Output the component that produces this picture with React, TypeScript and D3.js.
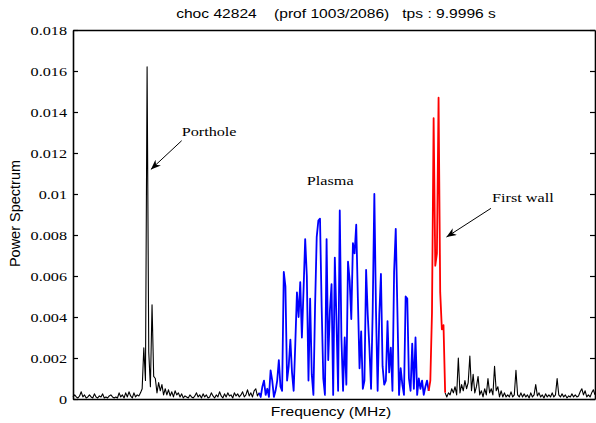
import React, { useEffect, useRef } from 'react';
import * as d3 from 'd3';

// power spectrum samples, in units of 1e-3, read left to right
const wallLeft = [
  0.1, 0.2, 0.1, 0.05, 0.15, 0.35, 0.1, 0.2, 0.05, 0.1,
  0.2, 0.1, 0.05, 0.25, 0.1, 0.05, 0.15, 0.1, 0.25, 0.05,
  0.1, 0.05, 0.15, 0.2, 0.1, 0.05, 0.1, 0.05, 0.3, 0.1,
  0.2, 0.05, 0.3, 0.1, 0.35, 0.15, 0.05, 0.3, 0.1, 0.2, 0.15,
  0.3, 0.5, 2.5, 0.9, 16.2, 2.3, 0.6, 4.6, 1.1, 1.0, 0.3, 0.8, 0.4, 0.7, 0.2, 0.5,
  0.2, 0.45, 0.15, 0.35, 0.1, 0.4, 0.2, 0.3, 0.1, 0.25,
  0.05, 0.15, 0.1, 0.05, 0.2, 0.1, 0.05, 0.15, 0.3, 0.1,
  0.2, 0.05, 0.25, 0.1, 0.2, 0.05, 0.1, 0.3, 0.15, 0.05,
  0.2, 0.1, 0.35, 0.15, 0.05, 0.25, 0.1, 0.3, 0.15, 0.2,
  0.05, 0.3, 0.15, 0.25, 0.1, 0.2, 0.35, 0.1, 0.2, 0.45,
  0.15, 0.3, 0.1, 0.4, 0.5, 0.15, 0.3,
];

const plasma = [
  0.1, 0.6, 0.9, 0.2, 0.5, 0.1, 1.4, 0.9, 0.1, 0.4,
  0.9, 1.9, 0.6, 0.4, 6.2, 5.5, 0.9, 1.6, 2.9, 1.3,
  0.4, 2.7, 5.2, 4.0, 5.7, 3.0, 5.3, 7.8, 6.0, 0.9,
  4.9, 1.2, 0.2, 4.5, 7.9, 8.7, 8.8, 4.5, 1.0, 0.2,
  7.8, 1.9, 4.3, 5.6, 0.2, 6.9, 3.8, 0.4, 9.2, 3.0,
  0.4, 3.0, 0.7, 6.7, 5.8, 3.9, 7.6, 7.1, 8.5, 4.9,
  1.5, 3.3, 0.5, 0.9, 6.3, 4.1, 2.5, 0.5, 4.3, 10.0,
  4.3, 0.4, 4.1, 6.1, 1.6, 0.7, 0.9, 3.8, 1.3, 2.5,
  0.4, 6.2, 8.3, 4.3, 0.2, 1.5, 0.7, 0.2, 5.0, 4.9,
  1.0, 0.4, 2.7, 0.5, 3.0, 0.2, 1.0, 0.5, 0.9, 0.2,
  0.6, 0.9, 0.4,
];

const firstWall = [0.9, 4.2, 13.7, 6.5, 7.1, 14.7, 5.2, 3.4, 3.6, 0.3];

const wallRight = [
  0.1, 0.3, 0.2, 0.5, 0.3, 0.6, 0.2, 2.0, 0.3, 0.7,
  0.4, 0.9, 0.5, 0.8, 2.1, 0.4, 1.2, 0.3, 0.6, 1.1,
  0.2, 0.4, 0.1, 0.5, 0.2, 1.0, 0.3, 0.5, 0.2, 1.6,
  0.4, 0.6, 0.1, 0.4, 0.1, 0.3, 0.1, 0.2, 0.1, 0.35,
  0.1, 0.2, 1.4, 0.2, 0.1, 0.3, 0.1, 0.25, 0.1, 0.2,
  0.05, 0.3, 0.1, 0.2, 0.7, 0.15, 0.3, 0.1, 0.2, 0.05,
  0.25, 0.1, 0.2, 0.1, 0.3, 0.1, 0.2, 1.0, 0.2, 0.1,
  0.25, 0.1, 0.2, 0.05, 0.15, 0.1, 0.25, 0.1, 0.2, 0.1,
  0.15, 0.35, 0.5, 0.2, 0.4, 0.1, 0.2, 0.1, 0.3, 0.45,
  0.2,
];

const yTicks = [0, 2, 4, 6, 8, 10, 12, 14, 16, 18];
const yTickLabels = ['0', '0.002', '0.004', '0.006', '0.008', '0.01', '0.012', '0.014', '0.016', '0.018'];

const title = 'choc 42824    (prof 1003/2086)   tps : 9.9996 s';
const xLabel = 'Frequency (MHz)';
const yLabel = 'Power Spectrum';

// annotation anchors in data space (sample index, 1e-3)
const notes = [
  { label: 'Porthole', at: [66, 12.85], from: [66, 12.6], to: [47.3, 11.2] },
  { label: 'Plasma', at: [142, 10.45] },
  { label: 'First wall', at: [254.5, 9.6], from: [253.8, 9.3], to: [226.8, 7.9] },
];

const width = 596;
const height = 423;
const margin = { top: 30, right: 1, bottom: 24, left: 73 };
const stretch = 1.2;
const serif = '"Liberation Serif", "Times New Roman", serif';
const sans = '"Liberation Sans", Arial, sans-serif';

const App = () => {
  const svgRef = useRef<SVGSVGElement>(null);

  useEffect(() => {
    const svg = d3.select(svgRef.current);
    svg.selectAll('*').remove();

    const segments = [
      { values: wallLeft, color: '#000000', lw: 1.1, z: 0 },
      { values: plasma, color: '#0000ff', lw: 1.8, z: 1 },
      { values: firstWall, color: '#ff0000', lw: 1.8, z: 2 },
      { values: wallRight, color: '#000000', lw: 1.1, z: 0 },
    ];

    let offset = 0;
    const series = segments.map((s, k) => {
      const pts: [number, number][] = s.values.map((v, i) => [offset + i, v]);
      if (k > 0) {
        const prev = segments[k - 1].values;
        pts.unshift([offset - 1, prev[prev.length - 1]]);
      }
      offset += s.values.length;
      return { ...s, pts };
    });

    const x = d3.scaleLinear()
      .domain([0, offset - 1])
      .range([margin.left, width - margin.right]);
    const y = d3.scaleLinear()
      .domain([0, 18])
      .range([height - margin.bottom, margin.top]);

    const defs = svg.append('defs');
    defs.append('marker')
      .attr('id', 'head')
      .attr('viewBox', '0 0 10 8')
      .attr('refX', 10)
      .attr('refY', 4)
      .attr('markerWidth', 11)
      .attr('markerHeight', 8)
      .attr('markerUnits', 'userSpaceOnUse')
      .attr('orient', 'auto')
      .append('path')
      .attr('d', 'M0,0 L10,4 L0,8 L3,4 Z')
      .attr('fill', '#000');

    const line = d3.line<[number, number]>()
      .x(d => x(d[0]))
      .y(d => y(d[1]));

    svg.append('g')
      .selectAll('path')
      .data(series.slice().sort((a, b) => a.z - b.z))
      .join('path')
      .attr('d', d => line(d.pts))
      .attr('fill', 'none')
      .attr('stroke', d => d.color)
      .attr('stroke-width', d => d.lw)
      .attr('stroke-linejoin', 'round');

    // axes
    const left = svg.append('g')
      .attr('transform', `translate(${margin.left},0)`)
      .call(d3.axisLeft(y).tickValues(yTicks).tickSize(-5).tickSizeOuter(0).tickPadding(5)
        .tickFormat((d, i) => yTickLabels[i]));
    left.selectAll('text')
      .attr('font-family', serif)
      .attr('font-size', 13.5)
      .attr('fill', '#000')
      .attr('transform', `scale(${stretch},1)`);

    svg.append('g')
      .attr('transform', `translate(${width - margin.right},0)`)
      .call(d3.axisRight(y).tickValues(yTicks).tickSize(-5).tickSizeOuter(0).tickFormat(() => ''));

    svg.append('g')
      .attr('transform', `translate(0,${height - margin.bottom})`)
      .call(d3.axisBottom(x).tickValues([]).tickSizeOuter(0));
    svg.append('g')
      .attr('transform', `translate(0,${margin.top})`)
      .call(d3.axisTop(x).tickValues([]).tickSizeOuter(0));

    svg.selectAll('.domain').attr('stroke-width', 1.6);
    svg.selectAll('.tick line').attr('stroke-width', 1.2);

    // annotations
    notes.forEach(n => {
      svg.append('text')
        .attr('transform', `translate(${x(n.at[0])},${y(n.at[1])}) scale(${stretch},1)`)
        .attr('font-family', serif)
        .attr('font-size', 13.5)
        .text(n.label);
      if (n.from && n.to) {
        svg.append('line')
          .attr('x1', x(n.from[0]))
          .attr('y1', y(n.from[1]))
          .attr('x2', x(n.to[0]))
          .attr('y2', y(n.to[1]))
          .attr('stroke', '#000')
          .attr('stroke-width', 1)
          .attr('marker-end', 'url(#head)');
      }
    });

    // titles
    const cx = (margin.left + width - margin.right) / 2;
    svg.append('text')
      .attr('transform', `translate(${cx + 2},18) scale(${stretch},1)`)
      .attr('text-anchor', 'middle')
      .attr('font-family', sans)
      .attr('font-size', 13)
      .style('white-space', 'pre')
      .text(title);
    svg.append('text')
      .attr('transform', `translate(${cx - 3},416) scale(${stretch},1)`)
      .attr('text-anchor', 'middle')
      .attr('font-family', sans)
      .attr('font-size', 13)
      .text(xLabel);
    svg.append('text')
      .attr('transform', `translate(20,${(margin.top + height - margin.bottom) / 2 - 1}) rotate(-90)`)
      .attr('text-anchor', 'middle')
      .attr('font-family', sans)
      .attr('font-size', 14.5)
      .text(yLabel);
  }, []);

  return (
    <svg
      ref={svgRef}
      width={width}
      height={height}
      style={{ position: 'absolute', left: 0, top: 0, background: '#fff' }}
    />
  );
};

export default App;
